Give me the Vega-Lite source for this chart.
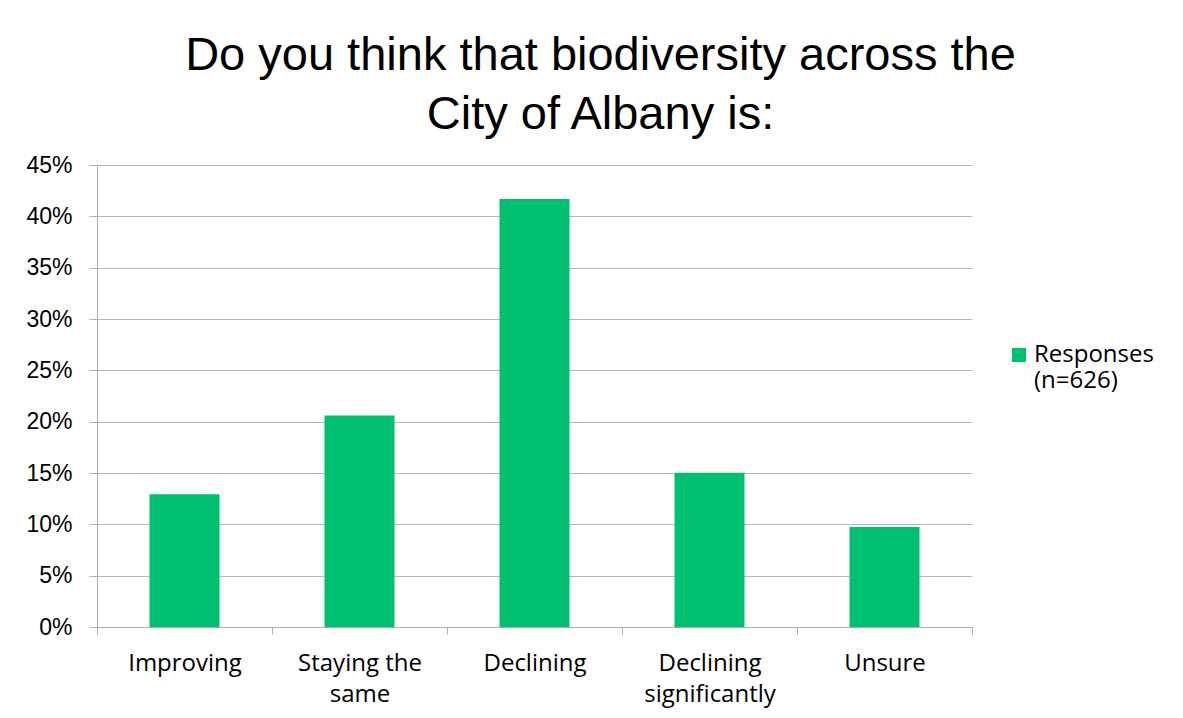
{
  "$schema": "https://vega.github.io/schema/vega-lite/v6.json",
  "width": 875,
  "height": 462,
  "autosize": {"type": "none"},
  "padding": {"left": 97, "top": 165, "right": 211, "bottom": 91},
  "background": "white",
  "title": {
    "text": ["Do you think that biodiversity across the", "City of Albany is:"],
    "font": "Liberation Sans",
    "fontSize": 47,
    "fontWeight": "normal",
    "color": "#000000",
    "anchor": "middle",
    "frame": "group",
    "dx": 66,
    "lineHeight": 59,
    "offset": 15
  },
  "data": {
    "values": [
      {"answer": "Improving", "share": 0.1294, "series": "Responses (n=626)"},
      {"answer": "Staying the same", "share": 0.2061, "series": "Responses (n=626)"},
      {"answer": "Declining", "share": 0.4169, "series": "Responses (n=626)"},
      {"answer": "Declining significantly", "share": 0.1502, "series": "Responses (n=626)"},
      {"answer": "Unsure", "share": 0.0974, "series": "Responses (n=626)"}
    ]
  },
  "mark": {"type": "bar", "width": {"band": 0.4}},
  "encoding": {
    "x": {
      "field": "answer",
      "type": "nominal",
      "sort": null,
      "scale": {"paddingInner": 0, "paddingOuter": 0},
      "axis": {
        "title": null,
        "labelAngle": 0,
        "labelFont": "Open Sans",
        "labelFontSize": 24,
        "labelColor": "#000000",
        "labelBaseline": "alphabetic",
        "labelPadding": 36,
        "labelLineHeight": 31,
        "labelExpr": "datum.value == 'Staying the same' ? ['Staying the', 'same'] : datum.value == 'Declining significantly' ? ['Declining', 'significantly'] : datum.value",
        "tickBand": "extent",
        "tickSize": 7,
        "tickColor": "#ADADAD",
        "domainColor": "#ADADAD",
        "grid": false
      }
    },
    "y": {
      "field": "share",
      "type": "quantitative",
      "scale": {"domain": [0, 0.45], "nice": false},
      "axis": {
        "title": null,
        "values": [0, 0.05, 0.1, 0.15, 0.2, 0.25, 0.3, 0.35, 0.4, 0.45],
        "format": ".0%",
        "labelFont": "Liberation Sans",
        "labelFontSize": 23,
        "labelColor": "#000000",
        "labelPadding": 17,
        "tickSize": 8,
        "tickColor": "#ADADAD",
        "domainColor": "#ADADAD",
        "gridColor": "#B8B8B8",
        "grid": true
      }
    },
    "color": {
      "field": "series",
      "type": "nominal",
      "scale": {"range": ["#00BF6F"]},
      "legend": {
        "title": null,
        "orient": "none",
        "legendX": 910,
        "legendY": 185,
        "symbolType": "M-1,-2H1V0H-1Z",
        "symbolSize": 196,
        "symbolStrokeWidth": 0,
        "symbolOpacity": 1,
        "labelFont": "Open Sans",
        "labelFontSize": 24,
        "labelColor": "#000000",
        "labelOffset": 3,
        "labelLineHeight": 31,
        "labelBaseline": "alphabetic",
        "labelLimit": 300,
        "labelExpr": "['Responses', '(n=626)']"
      }
    }
  },
  "config": {
    "view": {"stroke": null}
  }
}
